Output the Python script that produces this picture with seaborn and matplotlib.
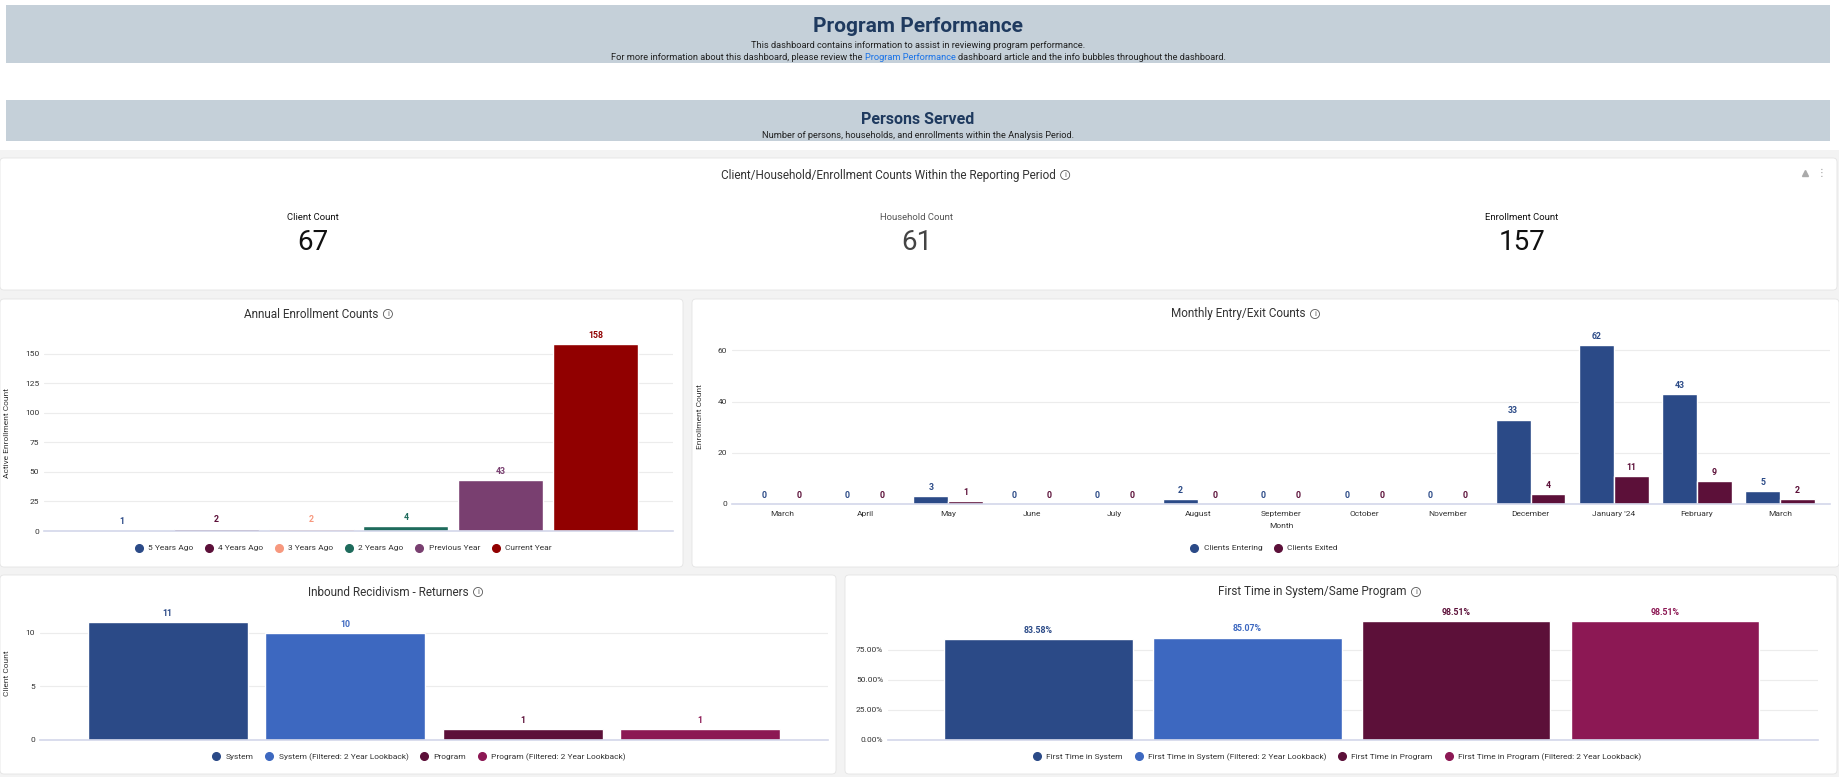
import numpy as np
import pandas as pd
import matplotlib
matplotlib.use("Agg")
import matplotlib.pyplot as plt
from matplotlib.patches import FancyBboxPatch, Rectangle
from matplotlib.lines import Line2D
from matplotlib.ticker import FuncFormatter
import seaborn as sns

W, H = 1839, 777

# ---- data ----
count_labels = ["Client Count", "Household Count", "Enrollment Count"]
count_values = [67, 61, 157]

annual_labels = ["5 Years Ago", "4 Years Ago", "3 Years Ago", "2 Years Ago", "Previous Year", "Current Year"]
annual_counts = [1, 2, 2, 4, 43, 158]
annual_colors = ["#2b4a87", "#5c1039", "#f7987e", "#1e6b5c", "#793f70", "#910000"]

months = ["March", "April", "May", "June", "July", "August", "September",
          "October", "November", "December", "January '24", "February", "March"]
clients_entering = [0, 0, 3, 0, 0, 2, 0, 0, 0, 33, 62, 43, 5]
clients_exited = [0, 0, 1, 0, 0, 0, 0, 0, 0, 4, 11, 9, 2]
monthly_series = ["Clients Entering", "Clients Exited"]
monthly_colors = ["#2b4a87", "#5c1039"]

recid_labels = ["System", "System (Filtered: 2 Year Lookback)", "Program", "Program (Filtered: 2 Year Lookback)"]
recid_counts = [11, 10, 1, 1]

first_labels = ["First Time in System", "First Time in System (Filtered: 2 Year Lookback)",
                "First Time in Program", "First Time in Program (Filtered: 2 Year Lookback)"]
first_pct = [83.58, 85.07, 98.51, 98.51]
four_colors = ["#2b4a87", "#3d68c0", "#5c1039", "#8c1854"]

sns.set_theme(style="white")
plt.rcParams['font.family'] = ['Roboto', 'DejaVu Sans']

fig = plt.figure(figsize=(W / 100, H / 100), dpi=100)
fig.patch.set_facecolor("white")

# background / layout layer in pixel coords
bg = fig.add_axes([0, 0, 1, 1])
bg.set_xlim(0, W)
bg.set_ylim(H, 0)
bg.axis("off")

def card(x0, y0, x1, y1):
	bg.add_patch(FancyBboxPatch((x0 + 3, y0 + 3), x1 - x0 - 6, y1 - y0 - 6,
		boxstyle="round,pad=3,rounding_size=4", facecolor="white",
		edgecolor="#e4e4e4", linewidth=0.6, zorder=1))

def px_axes(x0, y0, x1, y1):
	return fig.add_axes([x0 / W, 1 - y1 / H, (x1 - x0) / W, (y1 - y0) / H])

def card_title(cx, y, text):
	t = bg.text(cx, y, text, ha="center", va="center", fontsize=8.5, color="#333333", zorder=3)
	bg.annotate("i", xy=(1, 0.5), xycoords=t, xytext=(7, 0), textcoords="offset points",
		ha="center", va="center", fontsize=5.5, color="#555555", zorder=3,
		bbox=dict(boxstyle="circle,pad=0.2", fc="white", ec="#555555", lw=0.6))

def legend_at(ax, labels, colors, cx, cy):
	handles = [Line2D([], [], marker="o", ls="", color=c, markersize=5.5, label=l)
		for l, c in zip(labels, colors)]
	ax.legend(handles=handles, loc="center", bbox_to_anchor=(cx / W, 1 - cy / H),
		bbox_transform=fig.transFigure, ncol=len(labels), frameon=False,
		fontsize=6, handletextpad=0.1, columnspacing=0.9, labelcolor="#333333")

def style(ax):
	for s in ["top", "right", "left"]:
		ax.spines[s].set_visible(False)
	ax.spines["bottom"].set_color("#d3d7ea")
	ax.spines["bottom"].set_linewidth(1.2)
	ax.yaxis.grid(True, color="#ececec", linewidth=0.8)
	ax.set_axisbelow(True)
	ax.tick_params(length=0, labelsize=6, labelcolor="#333333")
	ax.set_xlabel("")
	ax.set_ylabel("")
	ax.set_facecolor("none")

def label_bars(ax, fmt):
	for cont in ax.containers:
		for bar in cont:
			h = bar.get_height()
			ax.annotate(fmt(h), (bar.get_x() + bar.get_width() / 2, h), xytext=(0, 3),
				textcoords="offset points", ha="center", va="bottom", fontsize=6.3,
				fontweight="bold", color=bar.get_facecolor())

# page background
bg.add_patch(Rectangle((0, 150), W, H - 150, facecolor="#f3f3f3", edgecolor="none", zorder=0))

# header bands
sub = 6.7
bg.add_patch(Rectangle((6, 5), 1824, 58, facecolor="#c5d0d9", edgecolor="none", zorder=1))
bg.add_patch(Rectangle((6, 100), 1824, 41, facecolor="#c5d0d9", edgecolor="none", zorder=1))
bg.text(918, 27, "Program Performance", ha="center", va="center", fontsize=15,
	fontweight="bold", color="#1f3a5f", zorder=3)
bg.text(918, 46, "This dashboard contains information to assist in reviewing program performance.",
	ha="center", va="center", fontsize=sub, color="#222222", zorder=3)
parts = ["For more information about this dashboard, please review the ",
	"Program Performance", " dashboard article and the info bubbles throughout the dashboard."]
full = bg.text(918, 57, "".join(parts), ha="center", va="center", fontsize=sub, alpha=0)
fig.canvas.draw()
bb = full.get_window_extent().transformed(bg.transData.inverted())
x_left = min(bb.x0, bb.x1)
full.remove()
t1 = bg.text(x_left, 57, parts[0].rstrip(), ha="left", va="center", fontsize=sub, color="#222222", zorder=3)
t2 = bg.annotate(parts[1], xy=(1, 0), xycoords=t1, xytext=(1.9, 0), textcoords="offset points",
	ha="left", va="bottom", fontsize=sub, color="#1a73e8", zorder=3)
bg.annotate(parts[2].strip(), xy=(1, 0), xycoords=t2, xytext=(1.9, 0), textcoords="offset points",
	ha="left", va="bottom", fontsize=sub, color="#222222", zorder=3)

bg.text(918, 119, "Persons Served", ha="center", va="center", fontsize=11.5,
	fontweight="bold", color="#1f3a5f", zorder=3)
bg.text(918, 135, "Number of persons, households, and enrollments within the Analysis Period.",
	ha="center", va="center", fontsize=sub, color="#222222", zorder=3)

# cards
card(0, 158, 1837, 290)
card(0, 299, 683, 567)
card(692, 299, 1839, 567)
card(0, 575, 836, 774)
card(845, 575, 1837, 774)

# counts card
card_title(888, 175, "Client/Household/Enrollment Counts Within the Reporting Period")
bg.text(1822, 173, "\u22ee", ha="center", va="center", fontsize=7, color="#999999", zorder=3)
bg.plot([1805], [173], marker="^", ms=4, color="#aaaaaa", zorder=3)
count_x = [313, 917, 1522]
count_lab_col = ["#111111", "#555555", "#111111"]
count_val_col = ["#111111", "#444444", "#111111"]
for x, lab, val, lc, vc in zip(count_x, count_labels, count_values, count_lab_col, count_val_col):
	bg.text(x, 217, lab, ha="center", va="center", fontsize=6.8, color=lc, zorder=3)
	bg.text(x, 242, str(val), ha="center", va="center", fontsize=20, color=vc, zorder=3)

# ---- Annual Enrollment Counts ----
card_title(311, 314, "Annual Enrollment Counts")
ax1 = px_axes(44, 336, 673, 531)
sns.barplot(x=annual_labels, y=annual_counts, hue=annual_labels, palette=annual_colors,
	width=0.9, legend=False, ax=ax1, saturation=1)
style(ax1)
ax1.set_ylim(0, 165)
ax1.set_xlim(-0.82, 5.82)
ax1.set_yticks([0, 25, 50, 75, 100, 125, 150])
ax1.set_xticks([])
ax1.set_ylabel("Active Enrollment Count", fontsize=6, color="#333333")
ax1.yaxis.set_label_coords(-34 / 629, 0.5)
label_bars(ax1, lambda v: f"{v:.0f}")
legend_at(ax1, annual_labels, annual_colors, 341, 548)

# ---- Monthly Entry/Exit Counts ----
card_title(1238, 314, "Monthly Entry/Exit Counts")
monthly = pd.DataFrame({
	"pos": list(range(len(months))) * 2,
	"count": clients_entering + clients_exited,
	"series": [monthly_series[0]] * len(months) + [monthly_series[1]] * len(months),
})
ax2 = px_axes(732, 330, 1830, 504)
sns.barplot(data=monthly, x="pos", y="count", hue="series", palette=monthly_colors,
	width=0.84, legend=False, ax=ax2, saturation=1)
style(ax2)
ax2.set_ylim(0, 68)
ax2.set_xlim(-0.6, 12.6)
ax2.set_yticks([0, 20, 40, 60])
ax2.set_xticks(range(len(months)))
ax2.set_xticklabels(months)
ax2.tick_params(axis="x", pad=5)
ax2.set_xlabel("Month", fontsize=6, color="#333333", labelpad=4)
ax2.set_ylabel("Enrollment Count", fontsize=6, color="#333333")
ax2.yaxis.set_label_coords(-29 / 1098, 0.5)
label_bars(ax2, lambda v: f"{v:.0f}")
legend_at(ax2, monthly_series, monthly_colors, 1262, 548)

# ---- Inbound Recidivism - Returners ----
card_title(388, 592, "Inbound Recidivism - Returners")
ax3 = px_axes(40, 606, 828, 740)
sns.barplot(x=recid_labels, y=recid_counts, hue=recid_labels, palette=four_colors,
	width=0.9, legend=False, ax=ax3, saturation=1)
style(ax3)
ax3.set_ylim(0, 12.5)
ax3.set_xlim(-0.72, 3.72)
ax3.set_yticks([0, 5, 10])
ax3.set_xticks([])
ax3.set_ylabel("Client Count", fontsize=6, color="#333333")
ax3.yaxis.set_label_coords(-30 / 788, 0.5)
label_bars(ax3, lambda v: f"{v:.0f}")
legend_at(ax3, recid_labels, four_colors, 417, 757)

# ---- First Time in System/Same Program ----
card_title(1312, 592, "First Time in System/Same Program")
ax4 = px_axes(888, 610, 1818, 740)
sns.barplot(x=first_labels, y=first_pct, hue=first_labels, palette=four_colors,
	width=0.9, legend=False, ax=ax4, saturation=1)
style(ax4)
ax4.set_ylim(0, 108)
ax4.set_xlim(-0.72, 3.73)
ax4.set_yticks([0, 25, 50, 75])
ax4.yaxis.set_major_formatter(FuncFormatter(lambda v, p: f"{v:.2f}%"))
ax4.set_xticks([])
label_bars(ax4, lambda v: f"{v:.2f}%")
legend_at(ax4, first_labels, four_colors, 1335, 757)

fig.savefig("out.png", dpi=100, facecolor=fig.get_facecolor())
